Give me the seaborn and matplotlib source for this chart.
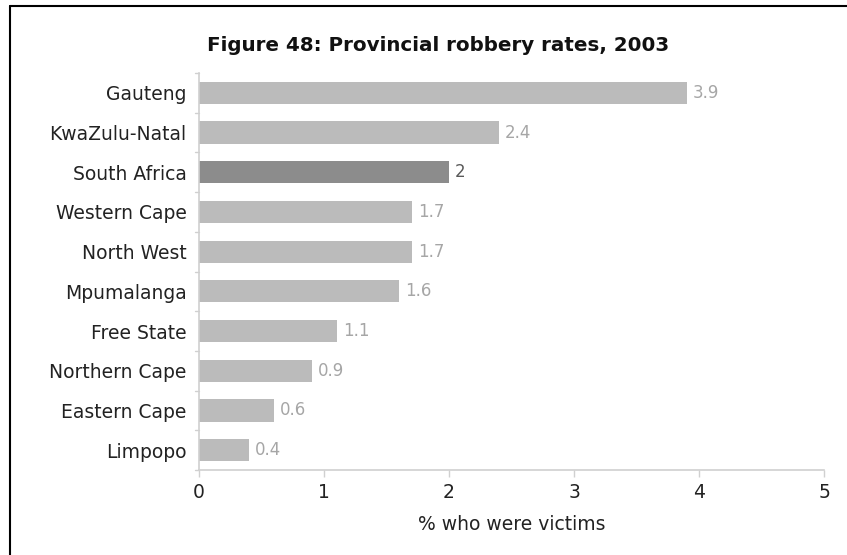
import matplotlib
matplotlib.use("Agg")
import matplotlib.pyplot as plt
import seaborn as sns
import pandas as pd

provinces = ["Gauteng", "KwaZulu-Natal", "South Africa", "Western Cape", "North West",
             "Mpumalanga", "Free State", "Northern Cape", "Eastern Cape", "Limpopo"]
rates = [3.9, 2.4, 2.0, 1.7, 1.7, 1.6, 1.1, 0.9, 0.6, 0.4]
value_labels = ["3.9", "2.4", "2", "1.7", "1.7", "1.6", "1.1", "0.9", "0.6", "0.4"]
x_ticks = [0, 1, 2, 3, 4, 5]

sns.set_theme(style="white")
plt.rcParams["font.family"] = ["DejaVu Sans"]

df = pd.DataFrame({"province": provinces, "rate": rates})
palette = {p: ("#8c8c8c" if p == "South Africa" else "#bbbbbb") for p in provinces}

fig = plt.figure(figsize=(8.47, 5.55), dpi=100)
ax = fig.add_axes([199 / 847, 1 - 470 / 555, 625 / 847, 397 / 555])

sns.barplot(data=df, y="province", x="rate", hue="province", palette=palette,
            order=provinces, width=0.56, legend=False, saturation=1,
            linewidth=0, ax=ax)

for i, (v, lab) in enumerate(zip(rates, value_labels)):
    col = "#595959" if provinces[i] == "South Africa" else "#a6a6a6"
    ax.text(v + 0.05, i, lab, va="center", ha="left", fontsize=12, color=col)

ax.set_xlim(0, 5)
ax.set_ylim(len(provinces) - 0.5, -0.5)
ax.set_xticks(x_ticks)
ax.set_xticklabels([str(t) for t in x_ticks], fontsize=13.5, color="#222222")
ax.set_ylabel("")
ax.set_xlabel("% who were victims", fontsize=13.5, color="#222222", labelpad=10)
ax.tick_params(axis="y", labelsize=13.5, labelcolor="#222222", length=0, pad=9)
ax.tick_params(axis="x", length=5, color="#d0d0d0", width=1, pad=4, direction="out", bottom=True)

# category boundary ticks on the value axis
for b in range(len(provinces) + 1):
    ax.plot([-0.035, 0], [b - 0.5, b - 0.5], color="#d0d0d0", lw=1, clip_on=False)

for s in ["top", "right"]:
    ax.spines[s].set_visible(False)
for s in ["left", "bottom"]:
    ax.spines[s].set_color("#d0d0d0")
    ax.spines[s].set_linewidth(1.2)

fig.text(438 / 847, 1 - 45 / 555, "Figure 48: Provincial robbery rates, 2003",
         ha="center", va="center", fontsize=14.3, fontweight="bold", color="#111111")

# frame lines on the left and top
fig.add_artist(plt.Line2D([10 / 847, 10 / 847], [0, 1 - 6 / 555], color="black", lw=1.5))
fig.add_artist(plt.Line2D([10 / 847, 1], [1 - 6 / 555, 1 - 6 / 555], color="black", lw=1.5))

fig.savefig("out.png", dpi=100)
